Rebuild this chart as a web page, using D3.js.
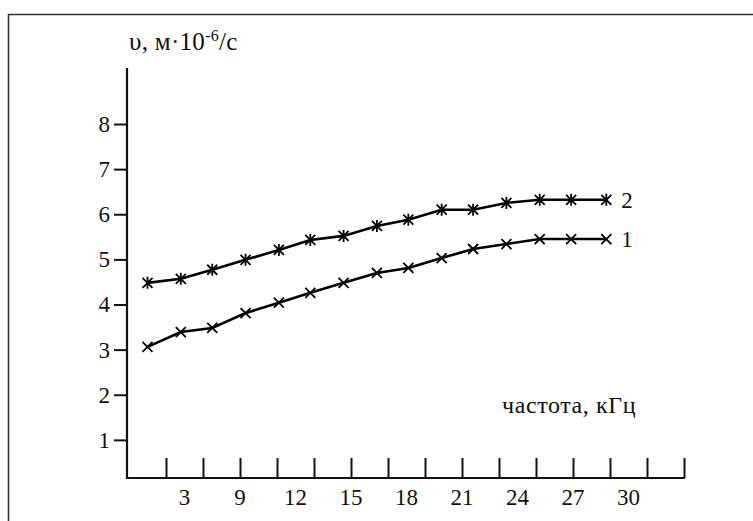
<html>
  <head>
    <meta charset="utf-8">
    <title>Скорость от частоты</title>
    <script src="https://cdn.jsdelivr.net/npm/d3@7/dist/d3.min.js"></script>
    <style>
      body { margin: 0; background: #fff; }
      svg text { font-family: "Liberation Serif", "Times New Roman", serif; fill: #111; }
    </style>
  </head>
  <body>
    <svg></svg>
    <script>
      'use strict';

      // frequency points (kHz)
      const freq = [1.0, 2.8, 4.5, 6.3, 8.1, 9.8, 11.6, 13.4, 15.1, 16.9, 18.6, 20.4, 22.2, 23.9, 25.8];
      // curve 1 (x markers)
      const series1 = [3.06, 3.39, 3.48, 3.81, 4.04, 4.26, 4.48, 4.70, 4.81, 5.03, 5.23, 5.34, 5.45, 5.45, 5.45];
      // curve 2 (asterisk markers)
      const series2 = [4.48, 4.57, 4.77, 4.99, 5.21, 5.43, 5.52, 5.74, 5.88, 6.10, 6.10, 6.25, 6.32, 6.32, 6.32];
      const yTicks = [1, 2, 3, 4, 5, 6, 7, 8];
      const xTickVals = [2, 4, 6, 8, 10, 12, 14, 16, 18, 20, 22, 24, 26, 28, 30];
      const xLabels = ["3", "9", "12", "15", "18", "21", "24", "27", "30"];

      const w = 753, h = 521;
      const serif = "Liberation Serif, Times New Roman, serif";
      const svg = d3.select("svg").attr("width", w).attr("height", h);

      // frame of the scanned figure (runs off to the right and bottom)
      svg.append("path")
        .attr("d", "M8.5," + (h + 5) + "V14.5H" + (w + 5))
        .attr("fill", "none")
        .attr("stroke", "#333")
        .attr("stroke-width", 1.6);

      const x = d3.scaleLinear().domain([0, 30]).range([129, 684]);
      const y = d3.scaleLinear().domain([0, 8]).range([485, 124]);
      const axisY0 = 478;

      // y axis
      const gy = svg.append("g")
        .attr("transform", "translate(127,0)")
        .call(d3.axisLeft(y).tickValues(yTicks).tickSize(13).tickPadding(4).tickFormat(d3.format("d")));
      gy.attr("font-family", serif).attr("font-size", 23);
      gy.select(".domain").remove();
      gy.selectAll(".tick line").attr("stroke", "#111").attr("stroke-width", 2);
      gy.selectAll(".tick text").attr("fill", "#111");
      svg.append("line")
        .attr("x1", 127).attr("x2", 127).attr("y1", 68).attr("y2", axisY0 + 1)
        .attr("stroke", "#111").attr("stroke-width", 2.2);

      // x axis with upward ticks
      const gx = svg.append("g")
        .attr("transform", "translate(0," + axisY0 + ")")
        .call(d3.axisBottom(x).tickValues(xTickVals).tickSize(-20).tickFormat(""));
      gx.select(".domain").remove();
      gx.selectAll(".tick line").attr("stroke", "#111").attr("stroke-width", 2);
      svg.append("line")
        .attr("x1", 126).attr("x2", x(30) + 1).attr("y1", axisY0).attr("y2", axisY0)
        .attr("stroke", "#111").attr("stroke-width", 2.2);

      // x tick labels (as printed in the source)
      const xl = d3.scalePoint().domain(xLabels).range([x(3), x(27)]);
      svg.selectAll(".xlab")
        .data(xLabels)
        .enter()
        .append("text")
        .attr("class", "xlab")
        .attr("x", d => xl(d))
        .attr("y", 505)
        .attr("text-anchor", "middle")
        .attr("font-size", 23)
        .text(d => d);

      // axis titles
      const yt = svg.append("text").attr("x", 129).attr("y", 50)
        .attr("font-size", 25).attr("letter-spacing", 0.3);
      yt.append("tspan").text("υ, м·10");
      yt.append("tspan").attr("dy", -9).attr("font-size", 16).text("-6");
      yt.append("tspan").attr("dy", 9).text("/с");

      svg.append("text")
        .attr("x", 502).attr("y", 413)
        .attr("font-size", 24)
        .attr("letter-spacing", 0.6)
        .text("частота, кГц");

      // curves
      const line = d3.line().x(d => x(d[0])).y(d => y(d[1]));
      const curves = [
        { vals: series1, star: false, label: "1" },
        { vals: series2, star: true, label: "2" }
      ];

      curves.forEach(function (c) {
        const pts = freq.map((f, i) => [f, c.vals[i]]);
        svg.append("path")
          .datum(pts)
          .attr("d", line)
          .attr("fill", "none")
          .attr("stroke", "#000")
          .attr("stroke-width", 2.6);

        const r = 5;
        svg.selectAll(null)
          .data(pts)
          .enter()
          .append("path")
          .attr("d", function (d) {
            const cx = x(d[0]), cy = y(d[1]);
            let p = "M" + (cx - r) + "," + (cy - r) + "L" + (cx + r) + "," + (cy + r) +
                    "M" + (cx - r) + "," + (cy + r) + "L" + (cx + r) + "," + (cy - r);
            if (c.star) p += "M" + cx + "," + (cy - 6) + "V" + (cy + 6);
            return p;
          })
          .attr("fill", "none")
          .attr("stroke", "#000")
          .attr("stroke-width", 1.8);

        const last = pts[pts.length - 1];
        svg.append("text")
          .attr("x", x(last[0]) + 15)
          .attr("y", y(last[1]))
          .attr("dy", "0.35em")
          .attr("font-size", 23)
          .text(c.label);
      });
    </script>
  </body>
</html>
